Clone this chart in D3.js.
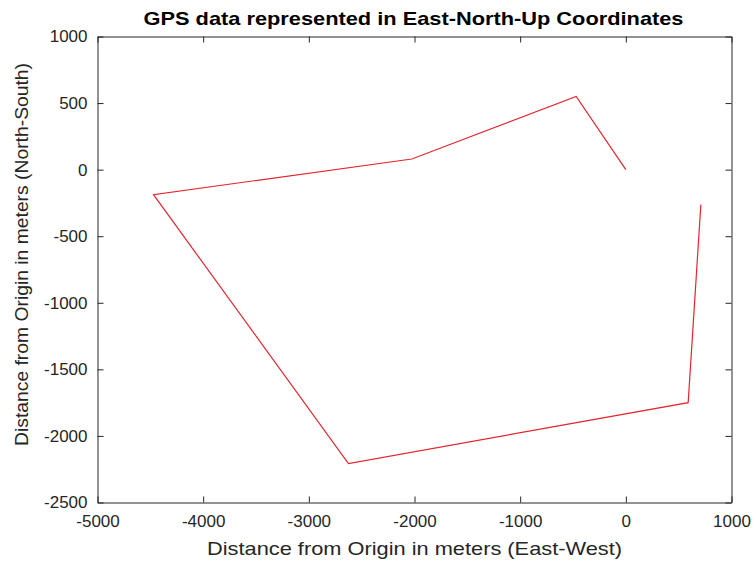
<!DOCTYPE html>
<html><head><meta charset="utf-8">
<script src="https://cdn.jsdelivr.net/npm/d3@7"></script>
<style>body{margin:0;background:#fff;} text{font-family:"Liberation Sans",Arial,sans-serif;}</style>
</head><body>
<svg id="c" width="754" height="561"></svg>
<script>
const eastValues = [0, -470, -2025, -4470, -2625, 590, 710];
const northValues = [0, 550, 80, -188, -2208, -1750, -262];
const xTicks = [-5000, -4000, -3000, -2000, -1000, 0, 1000];
const yTicks = [-2500, -2000, -1500, -1000, -500, 0, 500, 1000];
const titleText = "GPS data represented in East-North-Up Coordinates";
const xLabel = "Distance from Origin in meters (East-West)";
const yLabel = "Distance from Origin in meters (North-South)";

const svg = d3.select("#c");
const L = 97.5, R = 731.5, T = 36.5, B = 502.5;
const x = d3.scaleLinear().domain([-5000, 1000]).range([L, R]);
const y = d3.scaleLinear().domain([-2500, 1000]).range([B, T]);
const axisColor = "#262626";

const line = d3.line().x((d, i) => x(eastValues[i])).y((d, i) => y(northValues[i]));
svg.append("path").datum(eastValues).attr("d", line)
  .attr("fill", "none").attr("stroke", "#e3262f").attr("stroke-width", 1.2);

function style(g) {
  g.select(".domain").attr("stroke", axisColor);
  g.selectAll(".tick line").attr("stroke", axisColor);
  g.selectAll(".tick text").attr("fill", axisColor).style("font-size", "17px")
   .style("font-family", "Liberation Sans, Arial, sans-serif");
}
const fmt = d => String(d);
svg.append("g").attr("transform", `translate(0,${B})`)
  .call(d3.axisBottom(x).tickValues(xTicks).tickFormat(fmt).tickSizeInner(-6).tickSizeOuter(0).tickPadding(12))
  .call(style);
svg.append("g").attr("transform", `translate(0,${T})`)
  .call(d3.axisTop(x).tickValues(xTicks).tickFormat("").tickSizeInner(-6).tickSizeOuter(0))
  .call(style);
svg.append("g").attr("transform", `translate(0,0)`)
  .call(g => {
    g.append("g").attr("transform", `translate(${L},0)`)
     .call(d3.axisLeft(y).tickValues(yTicks).tickFormat(fmt).tickSizeInner(-6).tickSizeOuter(0).tickPadding(10))
     .call(style);
  });
svg.append("g").attr("transform", `translate(${R},0)`)
  .call(d3.axisRight(y).tickValues(yTicks).tickFormat("").tickSizeInner(-6).tickSizeOuter(0))
  .call(style);

svg.append("text").attr("x", (L + R) / 2 - 1).attr("y", 25).attr("text-anchor", "middle")
  .attr("textLength", 540).attr("lengthAdjust", "spacingAndGlyphs")
  .style("font-size", "18.5px").style("font-weight", "bold").attr("fill", "#000").text(titleText);
svg.append("text").attr("x", 414.5).attr("y", 555).attr("text-anchor", "middle")
  .attr("textLength", 415).attr("lengthAdjust", "spacingAndGlyphs")
  .style("font-size", "19px").attr("fill", axisColor).text(xLabel);
svg.append("text").attr("transform", `translate(28,254.5) rotate(-90)`).attr("text-anchor", "middle")
  .attr("textLength", 383).attr("lengthAdjust", "spacingAndGlyphs")
  .style("font-size", "19px").attr("fill", axisColor).text(yLabel);
</script>
</body></html>
